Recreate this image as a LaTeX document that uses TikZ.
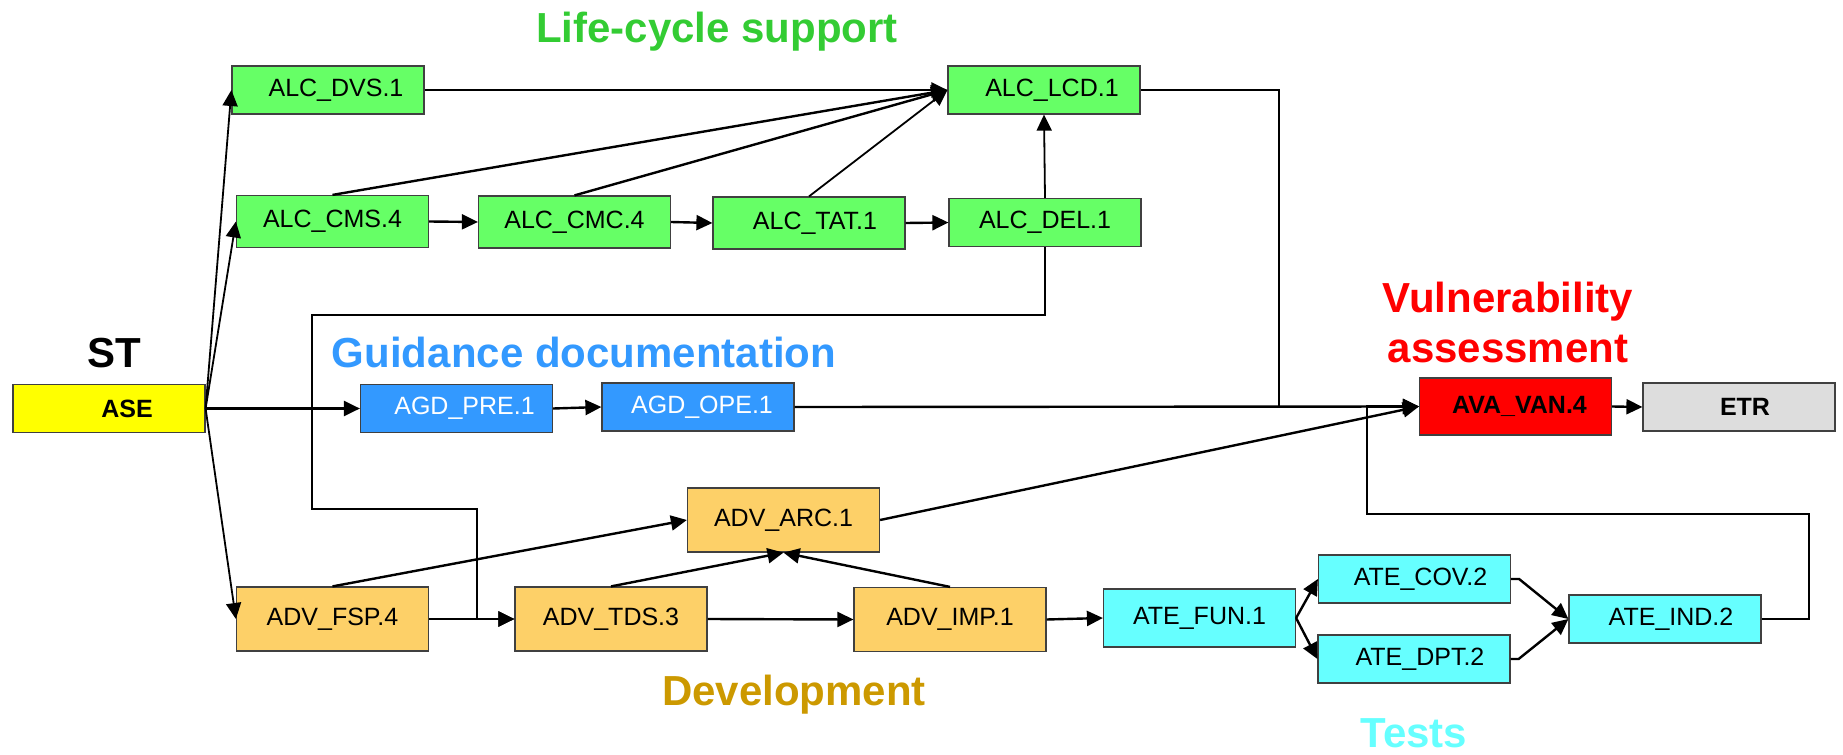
\documentclass[tikz,border=0pt]{standalone}
\usepackage{fontspec}
\setmainfont{Liberation Sans}
\usetikzlibrary{arrows.meta}
\definecolor{alcg}{HTML}{66FF66}
\definecolor{agdb}{HTML}{3399FF}
\definecolor{advo}{HTML}{FDD068}
\definecolor{atec}{HTML}{66FFFF}
\definecolor{avar}{HTML}{FF0000}
\definecolor{etrg}{HTML}{DDDDDD}
\definecolor{asey}{HTML}{FFFF00}
\definecolor{tgreen}{HTML}{33CC33}
\definecolor{tdev}{HTML}{CC9900}
\begin{document}
\begin{tikzpicture}[x=0.5pt,y=-0.5pt,
  box/.style={draw=black!75, line width=0.6pt, minimum width=96pt, minimum height=24pt, inner sep=0pt, anchor=center, font=\fontsize{12.5}{14}\selectfont},
  tall/.style={minimum height=32pt},
  mid/.style={minimum height=26pt},
  conn/.style={line width=1.2pt, -{Triangle[length=8pt,width=7.5pt]}},
  thin/.style={line width=0.9pt},
  title/.style={anchor=base, font=\fontsize{21}{25}\selectfont\bfseries}]
\useasboundingbox (0,0) rectangle (1843,755);
% titles
\node[title, text=tgreen] (tlc) at (717,42) {Life-cycle support};
\node[title, text=black] (tst) at (114,367) {ST};
\node[title, text=agdb] (tgd) at (584,367) {Guidance documentation};
\node[title, text=avar, align=center] (tva) at (1508,362) {Vulnerability\\assessment};
\node[title, text=tdev] (tdv) at (794,705) {Development};
\node[title, text=atec] (tts) at (1414,747) {Tests};
% nodes
\node[box, fill=asey, font=\fontsize{12.5}{14}\selectfont\bfseries] (ASE) at (109,408.5) {\hspace{18pt}ASE};
\node[box, fill=alcg] (DVS) at (328,90) {\hspace{8pt}ALC\_DVS.1};
\node[box, fill=alcg, mid] (CMS) at (332.5,221.5) {ALC\_CMS.4};
\node[box, fill=alcg, mid] (CMC) at (574.5,222) {ALC\_CMC.4};
\node[box, fill=alcg, mid] (TAT) at (809,223) {\hspace{6pt}ALC\_TAT.1};
\node[box, fill=alcg] (LCD) at (1044,90) {\hspace{8pt}ALC\_LCD.1};
\node[box, fill=alcg] (DEL) at (1045,222.5) {ALC\_DEL.1};
\node[box, fill=agdb, text=white] (PRE) at (456.5,408.5) {\hspace{8pt}AGD\_PRE.1};
\node[box, fill=agdb, text=white] (OPE) at (698,407) {\hspace{4pt}AGD\_OPE.1};
\node[box, fill=avar, minimum height=28.5pt, font=\fontsize{12.5}{14}\selectfont\bfseries] (AVA) at (1515.5,406.5) {\hspace{4pt}AVA\_VAN.4};
\node[box, fill=etrg, font=\fontsize{12.5}{14}\selectfont\bfseries] (ETR) at (1739,407) {\hspace{6pt}ETR};
\node[box, fill=advo, tall] (ARC) at (783.5,520) {ADV\_ARC.1};
\node[box, fill=advo, tall] (FSP) at (332.5,619) {ADV\_FSP.4};
\node[box, fill=advo, tall] (TDS) at (611,619) {ADV\_TDS.3};
\node[box, fill=advo, tall] (IMP) at (950,619.5) {ADV\_IMP.1};
\node[box, fill=atec, minimum height=29pt] (FUN) at (1199.5,618) {ATE\_FUN.1};
\node[box, fill=atec] (COV) at (1414.5,579) {\hspace{6pt}ATE\_COV.2};
\node[box, fill=atec] (DPT) at (1414,659) {\hspace{6pt}ATE\_DPT.2};
\node[box, fill=atec] (IND) at (1665,619) {\hspace{6pt}ATE\_IND.2};
% helper coordinates
\coordinate (j1) at (1279,406.5);
\coordinate (j2) at (1809,514);
\coordinate (j3) at (1367,514);
\coordinate (k1) at (312,315);
\coordinate (k2) at (312,509);
\coordinate (k3) at (477,509);
% connectors
\draw[conn, thin] (ASE.east) -- (DVS.west);
\draw[conn, thin] (ASE.east) -- (CMS.west);
\draw[conn] (ASE.east) -- (PRE.west);
\draw[conn, thin] (ASE.east) -- (FSP.west);
\draw[conn] (DVS.east) -- (LCD.west);
\draw[conn] (CMS.north) -- (LCD.west);
\draw[conn] (CMC.north) -- (LCD.west);
\draw[conn, thin] (TAT.north) -- (LCD.west);
\draw[conn] (CMS.east) -- (CMC.west);
\draw[conn] (CMC.east) -- (TAT.west);
\draw[conn] (TAT.east) -- (DEL.west);
\draw[conn, thin] (DEL.north) -- (LCD.south);
\draw[conn] (PRE.east) -- (OPE.west);
\draw[conn] (OPE.east) -- (AVA.west);
\draw[conn] (AVA.east) -- (ETR.west);
\draw[conn, thin] (LCD.east) -| (j1) -- (AVA.west);
\draw[conn] (IND.east) -| (j2) -- (j3) |- (AVA.west);
\draw[conn] (DEL.south) |- (k1) -- (k2) -- (k3) |- (TDS.west);
\draw[conn] (FSP.east) -- (TDS.west);
\draw[conn] (FSP.north) -- (ARC.west);
\draw[conn] (TDS.north) -- (ARC.south);
\draw[conn] (IMP.north) -- (ARC.south);
\draw[conn] (ARC.east) -- (AVA.west);
\draw[conn] (TDS.east) -- (IMP.west);
\draw[conn] (IMP.east) -- (FUN.west);
\draw[conn] (FUN.east) -- (COV.west);
\draw[conn] (FUN.east) -- (DPT.west);
\draw[conn] (COV.east) -- ++(8,0) -- (IND.west);
\draw[conn] (DPT.east) -- ++(8,0) -- (IND.west);
\end{tikzpicture}
\end{document}
